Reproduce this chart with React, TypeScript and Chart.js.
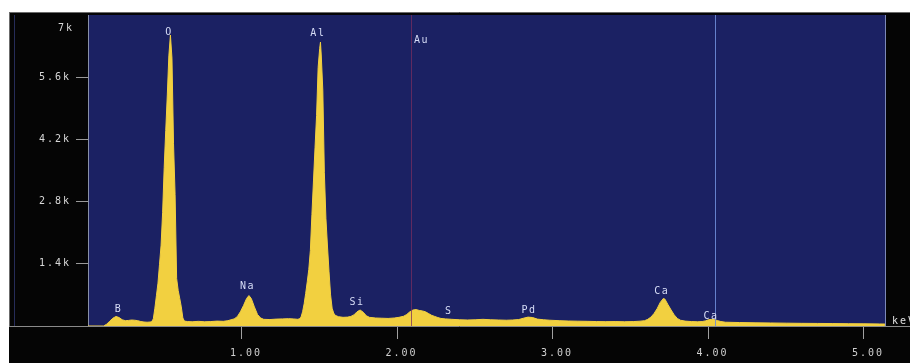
import React, { useEffect, useRef } from "react";
import { Chart, registerables } from "chart.js";

Chart.register(...registerables);

// EDS spectrum: energy (keV) and counts
const spectrumEnergy = [
  0.0, 0.11, 0.13, 0.15, 0.17, 0.19, 0.21, 0.23, 0.25, 0.27, 0.29, 0.31, 0.33, 0.35, 0.37, 0.39,
  0.41, 0.42, 0.43, 0.44, 0.45, 0.46, 0.47, 0.48, 0.49, 0.5, 0.51, 0.52, 0.53, 0.54, 0.55, 0.56,
  0.57, 0.58, 0.59, 0.6, 0.61, 0.62, 0.63, 0.65, 0.68, 0.72, 0.76, 0.8, 0.84, 0.88, 0.91, 0.93,
  0.95, 0.97, 0.99, 1.01, 1.03, 1.045, 1.06, 1.08, 1.1, 1.12, 1.14, 1.18, 1.22, 1.26, 1.3, 1.33,
  1.36, 1.37, 1.38, 1.39, 1.4, 1.41, 1.42, 1.43, 1.44, 1.45, 1.46, 1.47, 1.48, 1.49, 1.5, 1.505,
  1.51, 1.52, 1.53, 1.54, 1.55, 1.56, 1.57, 1.58, 1.59, 1.6, 1.62, 1.65, 1.68, 1.7, 1.72, 1.74,
  1.76, 1.78, 1.8, 1.82, 1.86, 1.9, 1.94, 1.98, 2.01, 2.04, 2.06, 2.08, 2.1, 2.12, 2.14, 2.16,
  2.18, 2.2, 2.22, 2.24, 2.26, 2.28, 2.31, 2.35, 2.4, 2.45, 2.5, 2.55, 2.6, 2.65, 2.7, 2.74,
  2.78, 2.81, 2.84, 2.87, 2.9, 2.94, 2.98, 3.04, 3.1, 3.16, 3.22, 3.28, 3.34, 3.4, 3.46, 3.52,
  3.56, 3.59, 3.61, 3.63, 3.65, 3.67, 3.69, 3.71, 3.72, 3.74, 3.76, 3.78, 3.8, 3.82, 3.85, 3.89,
  3.93, 3.96, 3.98, 4.0, 4.02, 4.04, 4.06, 4.08, 4.11, 4.2, 4.3, 4.4, 4.5, 4.6, 4.7, 4.8,
  4.9, 5.0, 5.1, 5.135,
];
const spectrumCounts = [
  0, 0, 40, 110, 175, 215, 190, 140, 120, 125, 135, 130, 120, 100, 90, 85,
  90, 100, 160, 400, 680, 965, 1390, 1820, 2560, 3570, 4400, 5200, 6080, 6550, 6030, 4100,
  2960, 1070, 800, 620, 430, 180, 110, 100, 95, 105, 95, 100, 110, 105, 120, 140,
  160, 210, 320, 460, 620, 685, 620, 430, 260, 180, 150, 145, 155, 160, 165, 160,
  150, 165, 200, 320, 500, 735, 995, 1275, 1700, 2510, 3265, 4010, 4740, 5820, 6250, 6390,
  6100, 5310, 3450, 2425, 1800, 1220, 700, 400, 290, 240, 210, 195, 200, 215, 250, 320,
  360, 310, 230, 195, 180, 175, 170, 180, 195, 220, 260, 320, 360, 370, 350, 340,
  320, 280, 240, 215, 190, 170, 160, 150, 140, 135, 140, 150, 140, 135, 130, 135,
  145, 175, 200, 190, 155, 140, 130, 120, 112, 108, 105, 100, 98, 100, 96, 100,
  108, 120, 150, 200, 280, 390, 530, 620, 605, 480, 360, 250, 170, 130, 110, 100,
  95, 100, 115, 140, 150, 145, 120, 100, 85, 78, 72, 68, 64, 60, 58, 55,
  52, 50, 46, 45,
];

const xTickValues = [1, 2, 3, 4, 5];
const xTickLabels = ["1.00", "2.00", "3.00", "4.00", "5.00"];
const yTickValues = [1400, 2800, 4200, 5600, 7000];
const yTickLabels = ["1.4k", "2.8k", "4.2k", "5.6k", "7k"];

const elementNames = ["B", "O", "Na", "Al", "Si", "Au", "S", "Pd", "Ca", "Ca"];
const elementEnergy = [0.2, 0.524, 1.03, 1.482, 1.733, 2.149, 2.323, 2.839, 3.693, 4.01];
const elementLabelCounts = [383, 6617, 885, 6595, 524, 6437, 338, 360, 788, 225];

const markerEnergy = [2.085, 4.04];
const markerColors = ["rgba(120,45,95,0.75)", "rgba(110,140,215,0.9)"];

const NAVY = "#1b2163";
const YELLOW = "rgb(242,208,64)";
const MONO = "'DejaVu Sans Mono', monospace";

export default function App() {
  const ref = useRef<HTMLCanvasElement>(null);

  useEffect(() => {
    const canvas = ref.current;
    if (!canvas) return;
    const points = spectrumEnergy.map((e, i) => ({ x: e, y: spectrumCounts[i] }));

    const framePlugin = {
      id: "edsFrame",
      beforeDraw(chart: any) {
        const { ctx, chartArea: a, width, height } = chart;
        ctx.save();
        ctx.fillStyle = "#ffffff";
        ctx.fillRect(0, 0, width, height);
        ctx.fillStyle = "#050505";
        ctx.fillRect(9, 12, width - 9, height - 12);
        ctx.fillStyle = NAVY;
        ctx.fillRect(a.left, a.top, a.right - a.left, a.bottom - a.top);
        ctx.lineWidth = 1;
        ctx.strokeStyle = "#6b6b6b";
        ctx.beginPath();
        ctx.moveTo(9, 12.5);
        ctx.lineTo(width, 12.5);
        ctx.moveTo(9.5, 12);
        ctx.lineTo(9.5, a.bottom);
        ctx.stroke();
        ctx.strokeStyle = "#262c58";
        ctx.beginPath();
        ctx.moveTo(14.5, a.top);
        ctx.lineTo(14.5, a.bottom);
        ctx.stroke();
        ctx.restore();
        (ctx as any).letterSpacing = "2px";
      },
      afterDatasetsDraw(chart: any) {
        const { ctx, chartArea: a, scales } = chart;
        const xs = scales.x;
        const ys = scales.y;
        ctx.save();
        ctx.lineWidth = 1;
        markerEnergy.forEach((e, i) => {
          const px = Math.round(xs.getPixelForValue(e)) + 0.5;
          ctx.strokeStyle = markerColors[i];
          ctx.beginPath();
          ctx.moveTo(px, a.top);
          ctx.lineTo(px, a.bottom);
          ctx.stroke();
        });
        (ctx as any).letterSpacing = "1.5px";
        ctx.font = `10px ${MONO}`;
        ctx.fillStyle = "#d6dcf6";
        ctx.textAlign = "center";
        ctx.textBaseline = "middle";
        elementNames.forEach((n, i) => {
          ctx.fillText(n, xs.getPixelForValue(elementEnergy[i]) + 1, ys.getPixelForValue(elementLabelCounts[i]));
        });
        ctx.restore();
      },
      afterDraw(chart: any) {
        const { ctx, chartArea: a, scales, width } = chart;
        ctx.save();
        ctx.lineWidth = 1;
        ctx.strokeStyle = "#8a8a8a";
        ctx.beginPath();
        ctx.moveTo(9, a.bottom + 0.5);
        ctx.lineTo(width, a.bottom + 0.5);
        ctx.stroke();
        ctx.strokeStyle = "#7c88b8";
        ctx.beginPath();
        ctx.moveTo(a.right + 0.5, a.top);
        ctx.lineTo(a.right + 0.5, a.bottom);
        ctx.stroke();
        (ctx as any).letterSpacing = "2px";
        ctx.font = `10px ${MONO}`;
        ctx.fillStyle = "#e0e0e0";
        ctx.textBaseline = "middle";
        ctx.textAlign = "left";
        ctx.fillText("keV", a.right + 7, a.bottom - 5);
        ctx.fillStyle = "#d8d8d8";
        ctx.textAlign = "right";
        const topVal = yTickValues[yTickValues.length - 1];
        ctx.fillText(yTickLabels[yTickLabels.length - 1], 74, scales.y.getPixelForValue(topVal) + 13);
        ctx.restore();
      },
    };

    const chart = new Chart(canvas, {
      type: "line",
      data: {
        datasets: [
          {
            data: points,
            fill: "origin",
            backgroundColor: YELLOW,
            borderColor: YELLOW,
            borderWidth: 1,
            pointRadius: 0,
            tension: 0,
          },
        ],
      },
      options: {
        responsive: false,
        devicePixelRatio: 1,
        animation: false,
        events: [],
        layout: { padding: { left: 0, right: 25, top: 15, bottom: 0 } },
        plugins: { legend: { display: false }, tooltip: { enabled: false } },
        scales: {
          x: {
            type: "linear",
            min: 0.01,
            max: 5.1355,
            afterBuildTicks: (s: any) => {
              s.ticks = xTickValues.map((v) => ({ value: v }));
            },
            afterFit: (s: any) => {
              s.height = 37;
            },
            grid: { drawOnChartArea: false, drawTicks: true, tickLength: 13, color: "#a0a0a0", lineWidth: 1 },
            border: { display: false },
            ticks: {
              callback: (v: any) => {
                const i = xTickValues.indexOf(v);
                return i >= 0 ? xTickLabels[i] : "";
              },
              color: "#d0d0d0",
              font: { family: MONO, size: 10 },
              padding: 8,
              labelOffset: 4,
              maxRotation: 0,
              autoSkip: false,
            },
          },
          y: {
            min: 0,
            max: 7000,
            afterBuildTicks: (s: any) => {
              s.ticks = yTickValues.map((v) => ({ value: v }));
            },
            afterFit: (s: any) => {
              s.width = 88;
            },
            grid: {
              drawOnChartArea: false,
              drawTicks: true,
              tickLength: 12,
              lineWidth: 1,
              color: (c: any) =>
                c.tick && c.tick.value === yTickValues[yTickValues.length - 1] ? "rgba(0,0,0,0)" : "#9a9a9a",
            },
            border: { display: true, color: "#8890a8", width: 1 },
            ticks: {
              callback: (v: any) => {
                const i = yTickValues.indexOf(v);
                return i >= 0 && i < yTickValues.length - 1 ? yTickLabels[i] : "";
              },
              color: "#d8d8d8",
              font: { family: MONO, size: 10 },
              padding: 5,
            },
          },
        },
      },
      plugins: [framePlugin],
    } as any);

    return () => chart.destroy();
  }, []);

  return (
    <div style={{ position: "fixed", left: 0, top: 0, width: 910, height: 363 }}>
      <canvas ref={ref} width={910} height={363} style={{ display: "block" }} />
    </div>
  );
}
